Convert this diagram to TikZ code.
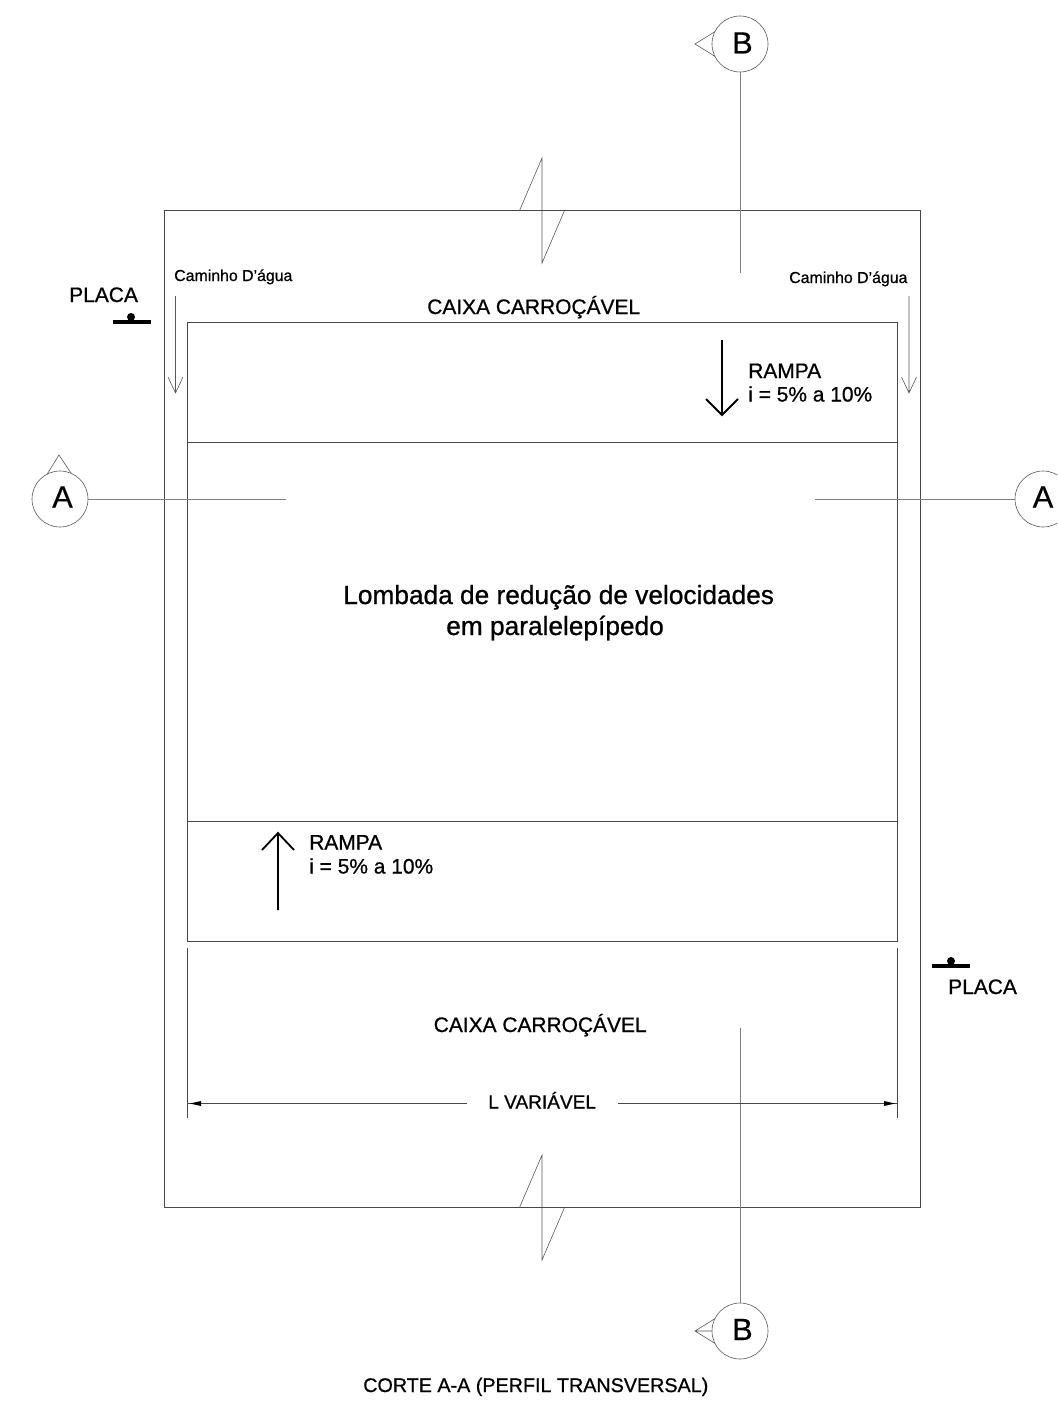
\documentclass[tikz,border=0pt]{standalone}
\usepackage{fontspec}
\setmainfont[FakeBold=0.8]{Liberation Sans}
\newfontfamily\plainf[FakeBold=0.5]{Liberation Sans}
\begin{document}
\begin{tikzpicture}[x=0.75pt,y=-0.75pt,
  outline/.style={draw=black!72,line width=0.6pt},
  section/.style={draw=black!50,line width=0.75pt},
  thin mark/.style={draw=black!65,line width=0.45pt},
  flow/.style={draw=black,line width=1.35pt},
  plate/.style={draw=black,line width=3pt},
  bubble/.style={circle,draw=black!65,line width=0.45pt,minimum size=42pt,inner sep=0pt,fill=white},
  bubbletext/.style={anchor=base,font=\plainf\fontsize{23}{23}\selectfont,inner sep=0pt},
  lab/.style={anchor=base west,inner sep=0pt},
  big/.style={lab,font=\fontsize{15.7}{15.7}\selectfont},
  mid/.style={lab,font=\fontsize{14.3}{14.3}\selectfont},
  small/.style={lab,font=\fontsize{11.9}{11.9}\selectfont},
  title lab/.style={lab,font=\fontsize{19.7}{19.7}\selectfont},
  caption lab/.style={lab,font=\fontsize{14.8}{14.8}\selectfont}]
\clip (0,0) rectangle (1057,1402);
\fill[white] (0,0) rectangle (1057,1402);
% frame
\draw[outline] (164.5,210.5) rectangle (920.5,1207.5);
% breaks
\draw[thin mark] (519.5,210.5) -- (542,158) -- (542,263) -- (564.5,210.5);
\draw[thin mark] (519.5,1207.5) -- (542,1155) -- (542,1260) -- (564.5,1207.5);
% road strips
\draw[outline] (187,322.5) rectangle (897.5,941);
\draw[outline] (187,442.5) -- (897.5,442.5);
\draw[outline] (187,821.5) -- (897.5,821.5);
% triangles under bubbles
\coordinate (tipBtop) at (695,44);
\coordinate (tipBbot) at (695,1331);
\coordinate (tipA) at (59,455);
\draw[thin mark] (716,31) -- (tipBtop) -- (716,57);
\draw[thin mark] (716,1318) -- (tipBbot) -- (716,1344) (tipBbot) -- (714,1331);
\draw[thin mark] (46,476) -- (tipA) -- (73,476);
% bubbles
\node[bubble] (Bt) at (740,44) {};
\node[bubble] (Bb) at (740,1331) {};
\node[bubble] (Al) at (60,499) {};
\node[bubble] (Ar) at (1043,499) {};
\node[bubbletext] at (742.5,53.5) {B};
\node[bubbletext] at (742.5,1340) {B};
\node[bubbletext] at (62.5,507.5) {A};
\node[bubbletext] at (1043,507.5) {A};
% section lines
\coordinate (BtE) at (740,273);
\coordinate (BbE) at (740,1028);
\coordinate (AlE) at (286,499);
\coordinate (ArE) at (815,499);
\draw[section] (Bt) -- (BtE);
\draw[section] (Bb) -- (BbE);
\draw[section] (Al) -- (AlE);
\draw[section] (Ar) -- (ArE);
% water arrows
\draw[thin mark] (175.5,296) -- (175.5,393) (168,377) -- (175.5,393) -- (183,377);
\draw[thin mark] (909,296) -- (909,393) (901.5,377) -- (909,393) -- (916.5,377);
% ramp arrows
\draw[flow] (722,340) -- (722,415) (706,399) -- (722,415) -- (738,399);
\draw[flow] (278,910) -- (278,833) (262,850) -- (278,833) -- (294,850);
% plates
\draw[plate] (113,321.5) -- (151,321.5);
\fill[black] (131,317) circle (3pt);
\draw[plate] (932,966) -- (970,966);
\fill[black] (951,961) circle (3pt);
% dimension
\draw[outline] (187,948) -- (187,1118);
\draw[outline] (897.5,948) -- (897.5,1118);
\coordinate (dimL) at (187,1103.5);
\coordinate (dimR) at (897.5,1103.5);
\coordinate (dimLi) at (467,1103.5);
\coordinate (dimRi) at (618,1103.5);
\draw[outline] (dimL) -- (dimLi);
\draw[outline] (dimRi) -- (dimR);
\fill[black] (190,1103.5) -- (201,1101) -- (201,1106) -- cycle;
\fill[black] (895,1103.5) -- (884,1101) -- (884,1106) -- cycle;
% labels
\node[small] (c1) at (174,281) {Caminho D'água};
\node[small] (c2) at (789,283) {Caminho D'água};
\node[big] (p1) at (69,302) {PLACA};
\node[big] (p2) at (948,994) {PLACA};
\node[big] (cx1) at (427,314) {CAIXA CARROÇÁVEL};
\node[big] (cx2) at (433.5,1032) {CAIXA CARROÇÁVEL};
\node[big] (r1) at (748,378) {RAMPA};
\node[big] (i1) at (748,401.5) {i = 5\% a 10\%};
\node[big] (r2) at (309,849.5) {RAMPA};
\node[big] (i2) at (309,873.5) {i = 5\% a 10\%};
\node[title lab] (t1) at (343,604) {Lombada de redução de velocidades};
\node[title lab] (t2) at (446,635) {em paralelepípedo};
\node[mid] (lv) at (488,1108.5) {L VARIÁVEL};
\node[caption lab] (ct) at (363,1392) {CORTE A-A (PERFIL TRANSVERSAL)};
\end{tikzpicture}
\end{document}
